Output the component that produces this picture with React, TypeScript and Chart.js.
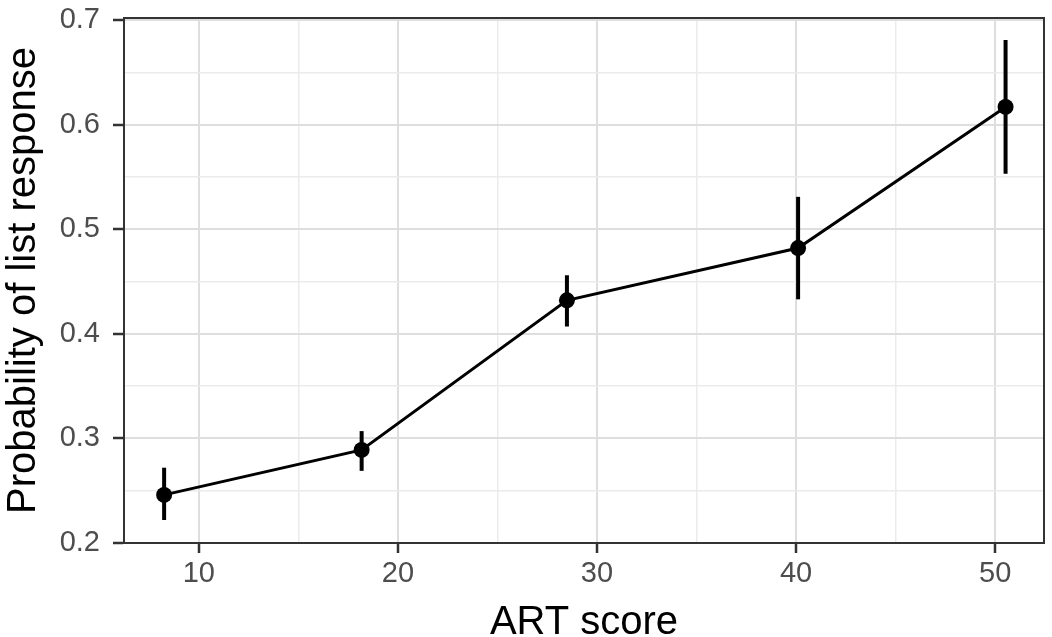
import React, { useEffect, useRef } from 'react';
import { Chart, registerables } from 'chart.js';

Chart.register(...registerables);

// ---- data ----
const artScore = [8.26, 18.18, 28.49, 40.1, 50.52];
const probability = [0.246, 0.289, 0.432, 0.482, 0.617];
const lowerCI = [0.222, 0.269, 0.407, 0.433, 0.553];
const upperCI = [0.272, 0.307, 0.456, 0.531, 0.681];

const xMajorTicks = [10, 20, 30, 40, 50];
const xMinorTicks = [15, 25, 35, 45];
const yMajorTicks = [0.2, 0.3, 0.4, 0.5, 0.6, 0.7];
const yMinorTicks = [0.25, 0.35, 0.45, 0.55, 0.65];

const xTitle = 'ART score';
const yTitle = 'Probability of list response';

const FONT = "'Liberation Sans', Arial, Helvetica, sans-serif";

const isIn = (arr: number[], v: number) => arr.some((a) => Math.abs(a - v) < 1e-6);

const errorBarPlugin = {
  id: 'errorBars',
  beforeDatasetsDraw(chart: any) {
    const { ctx, scales } = chart;
    const xs = scales.x;
    const ys = scales.y;
    ctx.save();
    ctx.strokeStyle = '#000';
    ctx.lineWidth = 4;
    ctx.lineCap = 'butt';
    for (let i = 0; i < artScore.length; i++) {
      const px = xs.getPixelForValue(artScore[i]);
      ctx.beginPath();
      ctx.moveTo(px, ys.getPixelForValue(lowerCI[i]));
      ctx.lineTo(px, ys.getPixelForValue(upperCI[i]));
      ctx.stroke();
    }
    ctx.restore();
  },
};

const panelBorderPlugin = {
  id: 'panelBorder',
  afterDraw(chart: any) {
    const { ctx, chartArea } = chart;
    ctx.save();
    ctx.strokeStyle = '#333333';
    ctx.lineWidth = 2;
    ctx.strokeRect(chartArea.left, chartArea.top, chartArea.right - chartArea.left, chartArea.bottom - chartArea.top);
    ctx.restore();
  },
};

const gridColor = (ticks: number[]) => (c: any) => (c.tick && isIn(ticks, c.tick.value) ? '#dedede' : '#ebebeb');
const gridWidth = (ticks: number[]) => (c: any) => (c.tick && isIn(ticks, c.tick.value) ? 2 : 1.5);
const tickColor = (ticks: number[]) => (c: any) => (c.tick && isIn(ticks, c.tick.value) ? '#333333' : 'rgba(0,0,0,0)');

export default function App() {
  const canvasRef = useRef<HTMLCanvasElement | null>(null);

  useEffect(() => {
    if (!canvasRef.current) return;
    const chart = new Chart(canvasRef.current, {
      type: 'line',
      data: {
        datasets: [
          {
            data: artScore.map((x, i) => ({ x, y: probability[i] })),
            borderColor: '#000',
            borderWidth: 3,
            backgroundColor: '#000',
            pointRadius: 8,
            pointBorderWidth: 0,
            pointBackgroundColor: '#000',
            tension: 0,
            fill: false,
          },
        ],
      },
      options: {
        responsive: false,
        animation: false,
        devicePixelRatio: 1,
        layout: { padding: { top: 18, right: 3, left: 0, bottom: 0 } },
        plugins: {
          legend: { display: false },
          tooltip: { enabled: false },
          title: { display: false },
        },
        scales: {
          x: {
            type: 'linear',
            min: 6.245,
            max: 52.45,
            afterBuildTicks: (scale: any) => {
              scale.ticks = [...xMajorTicks, ...xMinorTicks].sort((a, b) => a - b).map((v) => ({ value: v }));
            },
            afterFit: (scale: any) => {
              scale.height = 94;
              scale.paddingLeft = 0;
              scale.paddingRight = 0;
            },
            ticks: {
              autoSkip: false,
              maxRotation: 0,
              padding: 4,
              color: '#4d4d4d',
              font: { family: FONT, size: 29 },
              callback: (v: any) => (isIn(xMajorTicks, Number(v)) ? String(v) : ''),
            },
            grid: {
              color: gridColor(xMajorTicks),
              lineWidth: gridWidth(xMajorTicks),
              tickColor: tickColor(xMajorTicks),
              tickLength: 10,
              tickWidth: 2.5,
            },
            border: { display: true, color: '#333333', width: 2 },
            title: {
              display: true,
              text: xTitle,
              color: '#000',
              font: { family: FONT, size: 40, lineHeight: 1 },
              padding: { top: 0, bottom: -6 },
            },
          },
          y: {
            type: 'linear',
            min: 0.2,
            max: 0.702,
            afterBuildTicks: (scale: any) => {
              scale.ticks = [...yMajorTicks, ...yMinorTicks].sort((a, b) => a - b).map((v) => ({ value: v }));
            },
            afterFit: (scale: any) => {
              scale.width = 124;
              scale.paddingTop = 0;
              scale.paddingBottom = 0;
            },
            ticks: {
              autoSkip: false,
              padding: 13,
              color: '#4d4d4d',
              font: { family: FONT, size: 29 },
              callback: (v: any) => (isIn(yMajorTicks, Number(v)) ? Number(v).toFixed(1) : ''),
            },
            grid: {
              color: gridColor(yMajorTicks),
              lineWidth: gridWidth(yMajorTicks),
              tickColor: tickColor(yMajorTicks),
              tickLength: 11,
              tickWidth: 2.5,
            },
            border: { display: true, color: '#333333', width: 2 },
            title: {
              display: true,
              text: yTitle,
              color: '#000',
              font: { family: FONT, size: 40, lineHeight: 1 },
              padding: { top: 4, bottom: 0 },
            },
          },
        },
      },
      plugins: [errorBarPlugin, panelBorderPlugin],
    } as any);
    return () => chart.destroy();
  }, []);

  return (
    <div style={{ position: 'absolute', left: 0, top: 0, width: 1052, height: 637, background: '#fff' }}>
      <canvas ref={canvasRef} width={1052} height={637} style={{ display: 'block' }} />
    </div>
  );
}
